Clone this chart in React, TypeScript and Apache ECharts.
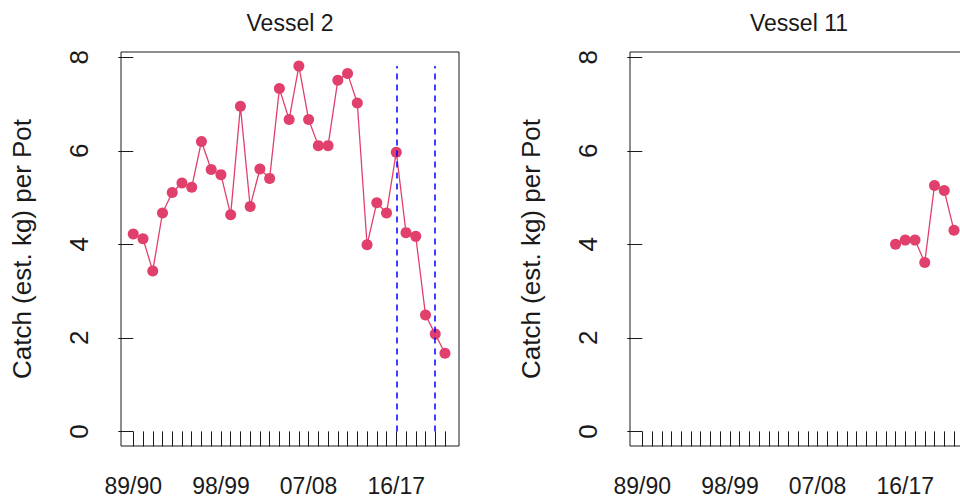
import React, { useEffect, useRef } from 'react';
import * as echarts from 'echarts';

const seasons = [
  '89/90', '90/91', '91/92', '92/93', '93/94', '94/95', '95/96', '96/97', '97/98', '98/99',
  '99/00', '00/01', '01/02', '02/03', '03/04', '04/05', '05/06', '06/07', '07/08', '08/09',
  '09/10', '10/11', '11/12', '12/13', '13/14', '14/15', '15/16', '16/17', '17/18', '18/19',
  '19/20', '20/21', '21/22',
];
const xLabelSeasons = ['89/90', '98/99', '07/08', '16/17'];
const yTicks = [0, 2, 4, 6, 8];

const vessel2Values = [
  4.22, 4.12, 3.43, 4.67, 5.11, 5.31, 5.22, 6.2, 5.6, 5.49,
  4.63, 6.95, 4.81, 5.61, 5.41, 7.33, 6.67, 7.81, 6.67, 6.11,
  6.11, 7.51, 7.65, 7.02, 3.99, 4.89, 4.67, 5.97, 4.25, 4.17,
  2.49, 2.08, 1.67,
];
const vessel11Seasons = ['15/16', '16/17', '17/18', '18/19', '19/20', '20/21', '21/22'];
const vessel11Values = [4.0, 4.09, 4.09, 3.61, 5.26, 5.15, 4.3];

const dashedSeasons = ['16/17', '20/21'];
const panelTitles = ['Vessel 2', 'Vessel 11'];
const yAxisTitle = 'Catch (est. kg) per Pot';

const RED = '#E0406B';
const INK = '#1a1a1a';
const FONT = 'Liberation Sans';
const GRID_LEFTS = [121, 630];
const GRID_TOP = 52;
const GRID_W = 338;
const GRID_H = 394;

function makeX(gridIndex: number) {
  return {
    type: 'value',
    gridIndex,
    min: -1.26,
    max: 33.44,
    axisLine: { show: false },
    splitLine: { show: false },
    axisTick: {
      show: true,
      length: 15,
      customValues: seasons.map((_, i) => i),
      lineStyle: { color: INK, width: 1 },
    },
    axisLabel: {
      show: true,
      customValues: xLabelSeasons.map((s) => seasons.indexOf(s)),
      formatter: (v: number) => seasons[Math.round(v)] ?? '',
      margin: 28,
      fontFamily: FONT,
      fontSize: 23,
      color: INK,
    },
  };
}

function makeY(gridIndex: number) {
  return {
    type: 'value',
    gridIndex,
    min: -0.312,
    max: 8.112,
    axisLine: { show: false },
    splitLine: { show: false },
    axisTick: {
      show: true,
      length: 15,
      customValues: yTicks,
      lineStyle: { color: INK, width: 1 },
    },
    axisLabel: {
      show: true,
      customValues: yTicks,
      rotate: 90,
      margin: 29,
      fontFamily: FONT,
      fontSize: 26,
      color: INK,
    },
    name: yAxisTitle,
    nameLocation: 'middle',
    nameRotate: 90,
    nameGap: 86,
    nameTextStyle: { fontFamily: FONT, fontSize: 26, color: INK },
  };
}

export default function App() {
  const ref = useRef<HTMLDivElement>(null);
  useEffect(() => {
    if (!ref.current) return;
    const chart = echarts.init(ref.current, null, { renderer: 'svg' });
    const maxV2 = Math.max(...vessel2Values);
    const option: any = {
      animation: false,
      backgroundColor: '#ffffff',
      grid: GRID_LEFTS.map((left) => ({
        left,
        top: GRID_TOP,
        width: GRID_W,
        height: GRID_H,
        show: true,
        borderColor: INK,
        borderWidth: 1,
        backgroundColor: 'transparent',
        containLabel: false,
        outerBoundsMode: 'none',
      })),
      xAxis: [makeX(0), makeX(1)],
      yAxis: [makeY(0), makeY(1)],
      graphic: panelTitles.map((t, i) => ({
        type: 'text',
        x: GRID_LEFTS[i] + GRID_W / 2,
        y: 23,
        style: {
          text: t,
          align: 'center',
          verticalAlign: 'middle',
          font: '23px "Liberation Sans"',
          fill: INK,
        },
      })),
      series: [
        {
          type: 'line',
          xAxisIndex: 0,
          yAxisIndex: 0,
          data: vessel2Values.map((v, i) => [i, v]),
          symbol: 'circle',
          symbolSize: 11,
          itemStyle: { color: RED },
          lineStyle: { color: RED, width: 1.3 },
          markLine: {
            silent: true,
            symbol: ['none', 'none'],
            label: { show: false },
            lineStyle: { color: '#0000FF', type: [6, 5], width: 1.5 },
            data: dashedSeasons.map((s) => {
              const i = seasons.indexOf(s);
              return [{ coord: [i, 0] }, { coord: [i, maxV2] }];
            }),
          },
        },
        {
          type: 'line',
          xAxisIndex: 1,
          yAxisIndex: 1,
          data: vessel11Seasons.map((s, k) => [seasons.indexOf(s), vessel11Values[k]]),
          symbol: 'circle',
          symbolSize: 11,
          itemStyle: { color: RED },
          lineStyle: { color: RED, width: 1.3 },
        },
      ],
    };
    chart.setOption(option);
    return () => chart.dispose();
  }, []);
  return (
    <div
      ref={ref}
      style={{ position: 'fixed', left: 0, top: 0, width: 960, height: 501, background: '#fff' }}
    />
  );
}
